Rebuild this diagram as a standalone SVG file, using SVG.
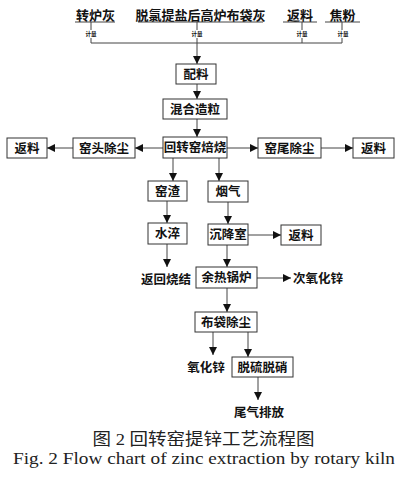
<svg xmlns="http://www.w3.org/2000/svg" width="402" height="481" viewBox="0 0 402 481">
<defs>
<marker id="ah" markerUnits="userSpaceOnUse" markerWidth="8" markerHeight="8" refX="8" refY="4" orient="auto">
<path d="M0,0 L8,4 L0,8 Z" fill="#111"/>
</marker>
</defs>
<style>
.bx{fill:#fff;stroke:#333;stroke-width:1}
.t{font-family:"Noto Sans CJK SC","Liberation Sans",sans-serif;font-size:12.5px;font-weight:bold;fill:#111;text-anchor:middle}
.tl{font-family:"Noto Sans CJK SC","Liberation Sans",sans-serif;font-size:13px;font-weight:bold;fill:#111;text-anchor:middle}
.js{font-family:"Noto Sans CJK SC",sans-serif;font-size:5.5px;font-weight:bold;fill:#111;text-anchor:middle}
.ln{fill:none;stroke:#444;stroke-width:1}
.ar{fill:none;stroke:#444;stroke-width:1;marker-end:url(#ah)}
</style>
<rect width="402" height="481" fill="#fff"/>
<g id="inputs">
<text class="tl" x="95.5" y="19.5">转炉灰</text>
<text class="tl" x="200.5" y="19.5">脱氯提盐后高炉布袋灰</text>
<text class="tl" x="300" y="19.5">返料</text>
<text class="tl" x="342.5" y="19.5">焦粉</text>
<path class="ln" d="M75,22H115 M138,22H263 M283,22H317 M325,22H360"/>
<text class="js" x="91" y="36">计量</text>
<text class="js" x="197" y="36">计量</text>
<text class="js" x="302" y="36">计量</text>
<text class="js" x="343" y="36">计量</text>
</g>
<g id="connectors">
<path class="ln" d="M91,22V30 M91,38V43 M197,22V30 M302,22V30 M302,38V43 M342,22V30 M342,38V43 M91,43H342"/>
<path class="ar" d="M197,38V64"/>
<path class="ar" d="M197,84V99"/>
<path class="ar" d="M197,119V137"/>
<path class="ar" d="M163,148H135"/>
<path class="ar" d="M73,148H47"/>
<path class="ar" d="M227,148H258"/>
<path class="ar" d="M321,148H353"/>
<path class="ar" d="M173,158V181"/>
<path class="ar" d="M219,158V181"/>
<path class="ar" d="M167,201V223"/>
<path class="ar" d="M228,202V224"/>
<path class="ar" d="M248,235H281"/>
<path class="ar" d="M167,244V267"/>
<path class="ar" d="M227,245V267"/>
<path class="ar" d="M257,278H291"/>
<path class="ar" d="M227,288V312"/>
<path class="ar" d="M213,332V355"/>
<path class="ar" d="M248,332V357"/>
<path class="ar" d="M258,377V400"/>
</g>
<g id="peiliao"><rect class="bx" x="176" y="64" width="40" height="20"/><text class="t" x="196" y="78.5">配料</text></g>
<g id="hunhe"><rect class="bx" x="163" y="99" width="64" height="20"/><text class="t" x="195" y="113.5">混合造粒</text></g>
<g id="huizhuanyao"><rect class="bx" x="163" y="137" width="64" height="21"/><text class="t" x="195" y="152">回转窑焙烧</text></g>
<g id="yaotou"><rect class="bx" x="73" y="138" width="62" height="20"/><text class="t" x="104" y="152.5">窑头除尘</text></g>
<g id="fanliao1"><rect class="bx" x="7" y="138" width="40" height="20"/><text class="t" x="27" y="152.5">返料</text></g>
<g id="yaowei"><rect class="bx" x="258" y="138" width="63" height="20"/><text class="t" x="289.5" y="152.5">窑尾除尘</text></g>
<g id="fanliao2"><rect class="bx" x="353" y="138" width="41" height="20"/><text class="t" x="373.5" y="152.5">返料</text></g>
<g id="yaozha"><rect class="bx" x="148" y="181" width="39" height="20"/><text class="t" x="167.5" y="195.5">窑渣</text></g>
<g id="yanqi"><rect class="bx" x="208" y="181" width="40" height="21"/><text class="t" x="228" y="196">烟气</text></g>
<g id="shuicui"><rect class="bx" x="148" y="223" width="39" height="21"/><text class="t" x="167.5" y="238">水淬</text></g>
<g id="chenjiang"><rect class="bx" x="208" y="224" width="40" height="21"/><text class="t" x="228" y="239">沉降室</text></g>
<g id="fanliao3"><rect class="bx" x="281" y="225" width="40" height="20"/><text class="t" x="301" y="239.5">返料</text></g>
<g id="fanhui"><text class="t" x="166" y="283.5">返回烧结</text></g>
<g id="yure"><rect class="bx" x="196" y="267" width="61" height="21"/><text class="t" x="226.5" y="282">余热锅炉</text></g>
<g id="ciyanghua"><text class="t" x="318" y="282.5">次氧化锌</text></g>
<g id="budai"><rect class="bx" x="195" y="312" width="62" height="20"/><text class="t" x="226" y="326.5">布袋除尘</text></g>
<g id="yanghua"><text class="t" x="206" y="371.5">氧化锌</text></g>
<g id="tuoliu"><rect class="bx" x="232" y="357" width="61" height="20"/><text class="t" x="262.5" y="371.5">脱硫脱硝</text></g>
<g id="weiqi"><text class="t" x="259" y="416.5">尾气排放</text></g>
<g id="caption">
<text x="203.5" y="444.5" font-family="Liberation Serif,'Noto Sans CJK SC',serif" font-size="16.5" fill="#222" text-anchor="middle" textLength="222" lengthAdjust="spacingAndGlyphs">图 2 回转窑提锌工艺流程图</text>
<text x="204" y="464" font-family="Liberation Serif,serif" font-size="17" fill="#222" text-anchor="middle" textLength="382" lengthAdjust="spacingAndGlyphs">Fig. 2 Flow chart of zinc extraction by rotary kiln</text>
</g>
</svg>
